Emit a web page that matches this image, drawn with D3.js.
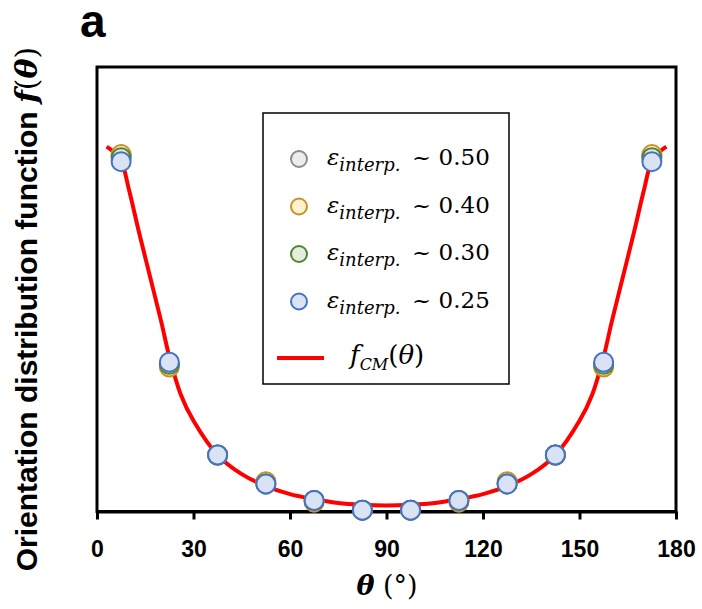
<!DOCTYPE html>
<html>
<head>
<meta charset="utf-8">
<script src="https://cdn.jsdelivr.net/npm/d3@7"></script>
<style>
  body { margin: 0; background: #fff; }
</style>
</head>
<body>
<div id="chart"></div>
<script>
// bin centres (degrees)
var theta = [7.5, 22.5, 37.5, 52.5, 67.5, 82.5, 97.5, 112.5, 127.5, 142.5, 157.5, 172.5];
// measured f(theta) for each interpolation error
var eps050 = [0.800, 0.330, 0.127, 0.062, 0.025, 0.003, 0.003, 0.025, 0.062, 0.127, 0.330, 0.800];
var eps040 = [0.803, 0.325, 0.127, 0.067, 0.021, 0.003, 0.003, 0.021, 0.067, 0.127, 0.325, 0.803];
var eps030 = [0.796, 0.331, 0.127, 0.062, 0.025, 0.003, 0.003, 0.025, 0.062, 0.127, 0.331, 0.796];
var eps025 = [0.787, 0.336, 0.127, 0.062, 0.025, 0.003, 0.003, 0.025, 0.062, 0.127, 0.336, 0.787];
// fitted curve f_CM(theta)
var fitTheta = [3, 5, 7.5, 10, 13, 16.5, 20, 22.5, 26, 30, 37.5, 45, 52.5, 60, 67.5, 75, 82.5, 90,
                97.5, 105, 112.5, 120, 127.5, 135, 142.5, 150, 154, 157.5, 160, 163.5, 167, 170, 172.5, 175, 177];
var fitValue = [0.821, 0.810, 0.789, 0.722, 0.630, 0.528, 0.426, 0.348, 0.264, 0.204, 0.127, 0.084, 0.057, 0.039, 0.028, 0.019, 0.015, 0.0135,
                0.015, 0.019, 0.028, 0.039, 0.057, 0.084, 0.127, 0.204, 0.264, 0.348, 0.426, 0.528, 0.630, 0.722, 0.789, 0.810, 0.821];
var xTicks = [0, 30, 60, 90, 120, 150, 180];
var seriesNames = ["0.50", "0.40", "0.30", "0.25"];

var series = [
    {name: seriesNames[0], values: eps050, stroke: "#8c8c8c", fill: "#ededed"},
    {name: seriesNames[1], values: eps040, stroke: "#c8912a", fill: "#fff2cc"},
    {name: seriesNames[2], values: eps030, stroke: "#548235", fill: "#e2efda"},
    {name: seriesNames[3], values: eps025, stroke: "#4472c4", fill: "#dae3f3"}
];

var svg = d3.select("#chart")
    .append("svg")
    .attr("width", 702)
    .attr("height", 609);

var margin = {top: 67, left: 97, right: 26, bottom: 97.5};
var width = 702 - margin.left - margin.right;
var height = 609 - margin.top - margin.bottom;

var g = svg.append("g")
    .attr("transform", "translate(" + margin.left + "," + margin.top + ")");

var x = d3.scaleLinear().domain([0, 180]).range([0, width]);
var y = d3.scaleLinear().domain([0, 1]).range([height, 0]);

// frame
g.append("rect")
    .attr("x", 0)
    .attr("y", 0)
    .attr("width", width)
    .attr("height", height)
    .attr("fill", "none")
    .attr("stroke", "#000")
    .attr("stroke-width", 3);

var xAxis = d3.axisBottom(x)
    .tickValues(xTicks)
    .tickSize(8)
    .tickSizeOuter(0);

var ax = g.append("g")
    .attr("transform", "translate(0," + height + ")")
    .call(xAxis);
ax.select(".domain").attr("stroke-width", 3);
ax.selectAll(".tick line").attr("stroke-width", 3);
ax.selectAll("text")
    .attr("y", 29)
    .attr("dy", "0.71em")
    .style("font-family", "'Liberation Sans', Arial, sans-serif")
    .style("font-weight", "bold")
    .style("font-size", "23px")
    .attr("fill", "#000");

// fitted curve
var line = d3.line()
    .x(function (d, i) { return x(fitTheta[i]); })
    .y(function (d) { return y(d); })
    .curve(d3.curveCatmullRom);

g.append("path")
    .datum(fitValue)
    .attr("d", line)
    .attr("fill", "none")
    .attr("stroke", "#ff0000")
    .attr("stroke-width", 4);

// data points
series.forEach(function (s) {
    g.selectAll(null)
        .data(s.values)
        .enter()
        .append("circle")
        .attr("cx", function (d, i) { return x(theta[i]); })
        .attr("cy", function (d) { return y(d); })
        .attr("r", 9.5)
        .attr("fill", s.fill)
        .attr("stroke", s.stroke)
        .attr("stroke-width", 2);
});

// legend
var lg = svg.append("g").attr("transform", "translate(263,113)");
lg.append("rect")
    .attr("width", 246)
    .attr("height", 271)
    .attr("fill", "#fff")
    .attr("stroke", "#000")
    .attr("stroke-width", 1.5);

var serif = "'DejaVu Serif', 'Liberation Serif', serif";
series.forEach(function (s, i) {
    var yy = 46 + i * 47.5;
    lg.append("circle")
        .attr("cx", 36)
        .attr("cy", yy)
        .attr("r", 8)
        .attr("fill", s.fill)
        .attr("stroke", s.stroke)
        .attr("stroke-width", 2);
    var t = lg.append("text")
        .attr("x", 64)
        .attr("y", yy + 6)
        .style("font-family", serif)
        .style("font-size", "23px")
        .attr("fill", "#000");
    t.append("tspan").style("font-style", "italic").text("ε");
    t.append("tspan")
        .attr("dy", 6)
        .style("font-style", "italic")
        .style("font-size", "18px")
        .text("interp.");
    t.append("tspan")
        .attr("x", 149)
        .attr("dy", -6)
        .text("~ " + s.name);
});

lg.append("line")
    .attr("x1", 14)
    .attr("x2", 61)
    .attr("y1", 245)
    .attr("y2", 245)
    .attr("stroke", "#ff0000")
    .attr("stroke-width", 4);

var ft = lg.append("text")
    .attr("x", 87)
    .attr("y", 251)
    .style("font-family", serif)
    .style("font-size", "26px")
    .attr("fill", "#000");
ft.append("tspan").style("font-style", "italic").text("f");
ft.append("tspan").attr("dy", 6).style("font-style", "italic").style("font-size", "16px").text("CM");
ft.append("tspan").attr("dy", -6).text("(");
ft.append("tspan").style("font-style", "italic").text("θ");
ft.append("tspan").text(")");

// panel letter
svg.append("text")
    .attr("x", 80)
    .attr("y", 37)
    .style("font-family", "'Liberation Sans', Arial, sans-serif")
    .style("font-weight", "bold")
    .style("font-size", "46px")
    .text("a");

// x label
var xl = svg.append("text")
    .attr("x", 387)
    .attr("y", 595)
    .attr("text-anchor", "middle")
    .style("font-family", serif)
    .style("font-size", "27px")
    .attr("fill", "#000");
xl.append("tspan").style("font-style", "italic").style("font-weight", "bold").text("θ");
xl.append("tspan").text(" (°)");

// y label
var yl = svg.append("text")
    .attr("transform", "translate(37,309) rotate(-90)")
    .attr("text-anchor", "middle")
    .style("font-family", "'Liberation Sans', Arial, sans-serif")
    .style("font-weight", "bold")
    .style("font-size", "30px")
    .attr("fill", "#000");
yl.append("tspan").text("Orientation distribution function ");
yl.append("tspan")
    .style("font-family", serif)
    .style("font-style", "italic")
    .text("f");
yl.append("tspan").style("font-family", serif).style("font-weight", "normal").text("(");
yl.append("tspan").style("font-family", serif).style("font-style", "italic").text("θ");
yl.append("tspan").style("font-family", serif).style("font-weight", "normal").text(")");
</script>
</body>
</html>
